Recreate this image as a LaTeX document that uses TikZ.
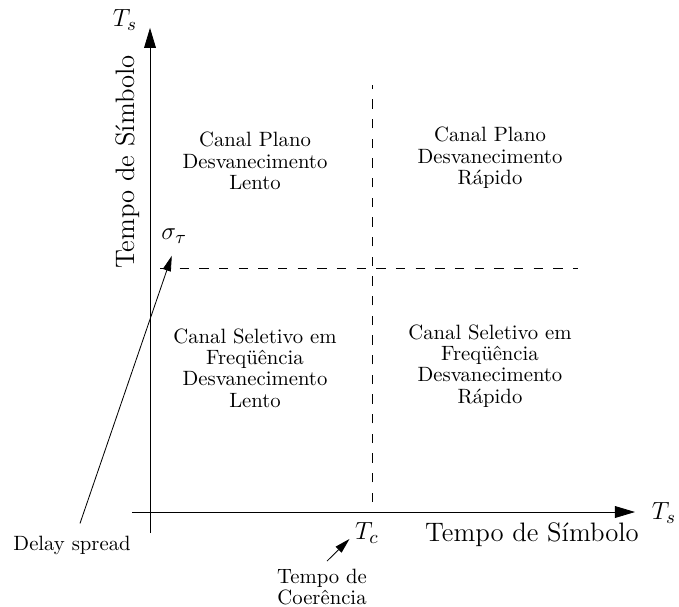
\documentclass[tikz,border=0pt]{standalone}
\usetikzlibrary{arrows.meta,positioning}
\begin{document}
\begin{tikzpicture}[
	axisarrow/.style={-{Triangle[length=0.34cm,width=0.2cm]}},
	notearrow/.style={-{Triangle[length=0.26cm,width=0.14cm]}},
	limit/.style={dash pattern=on 4.5pt off 5pt},
	region/.style={align=center,inner sep=2pt,font=\fontsize{10}{10.3}\selectfont},
	big/.style={inner sep=2pt,font=\fontsize{12.9}{15}\selectfont},
	mathlabel/.style={inner sep=2pt,font=\fontsize{13}{15}\selectfont},
	note/.style={align=center,inner sep=2pt,font=\fontsize{10}{10}\selectfont}]

	\useasboundingbox (-2.547,-1.596) rectangle (8.982,8.694);

	% axes
	\coordinate (ybot) at (0,-0.357);
	\coordinate (ytop) at (0,8.22);
	\coordinate (xleft) at (-0.306,0);
	\coordinate (xright) at (8.235,0);
	\draw[axisarrow] (ybot) -- (ytop);
	\draw[axisarrow] (xleft) -- (xright);

	% limits
	\coordinate (sig_l) at (0.17,4.143);
	\coordinate (sig_r) at (7.27,4.143);
	\coordinate (tc_b) at (3.77,0.17);
	\coordinate (tc_t) at (3.77,7.25);
	\draw[limit] (sig_l) -- (sig_r);
	\draw[limit] (tc_b) -- (tc_t);

	% axis labels
	\node[mathlabel] (ts_top) at (-0.425,8.354) {$T_s$};
	\node[big,rotate=90] (ylabel) at (-0.374,5.943) {Tempo de Símbolo};
	\node[big] (xlabel) at (6.486,-0.39) {Tempo de Símbolo};
	\node[mathlabel] (ts_right) at (8.728,-0.017) {$T_s$};
	\node[mathlabel] (sigma) at (0.41,4.69) {$\sigma_\tau$};
	\node[mathlabel] (tc) at (3.685,-0.357) {$T_c$};

	% regions
	\node[region] (flat_slow) at (1.783,5.96) {Canal Plano\\Desvanecimento\\Lento};
	\node[region] (flat_fast) at (5.773,6.011) {Canal Plano\\Desvanecimento\\Rápido};
	\node[region] (sel_slow) at (1.783,2.445) {Canal Seletivo em\\Freqüência\\Desvanecimento\\Lento};
	\node[region] (sel_fast) at (5.773,2.479) {Canal Seletivo em\\Freqüência\\Desvanecimento\\Rápido};

	% notes
	\node[note] (dspread) at (-1.324,-0.56) {Delay spread};
	\node[note] (coher) at (2.921,-1.273) {Tempo de\\Coerência};
	\draw[notearrow] ([xshift=0.135cm,yshift=0.13cm]dspread.north) -- ([xshift=-0.04cm,yshift=-0.14cm]sigma.south);
	\draw[notearrow] ([xshift=0.084cm,yshift=0.06cm]coher.north) -- ([xshift=-0.02cm,yshift=-0.1cm]tc.west);

\end{tikzpicture}
\end{document}
